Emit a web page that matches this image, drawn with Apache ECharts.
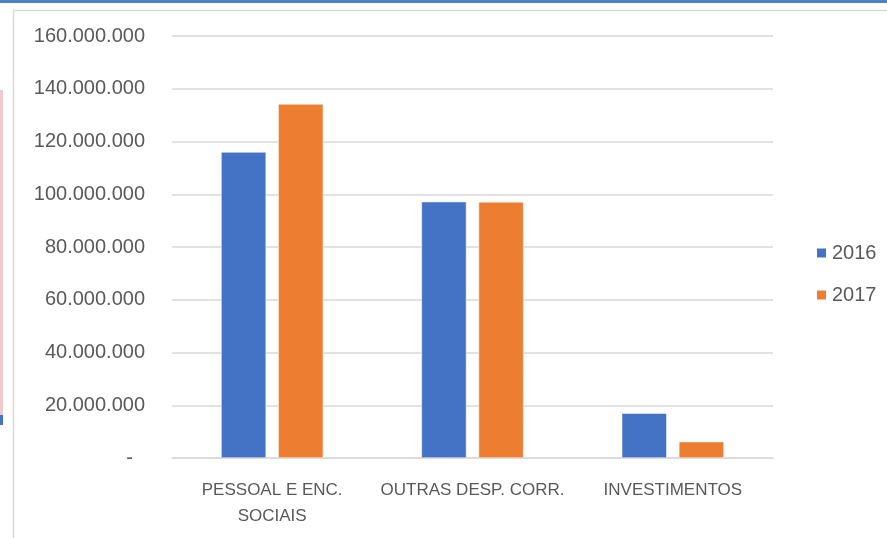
<!DOCTYPE html>
<html>
<head>
<meta charset="utf-8">
<script src="https://cdn.jsdelivr.net/npm/echarts@6/dist/echarts.min.js"></script>
<style>
html,body{margin:0;padding:0;background:#fff;}
#c{width:887px;height:538px;}
</style>
</head>
<body>
<div id="c"></div>
<script>
var categories = ['PESSOAL E ENC.\nSOCIAIS', 'OUTRAS DESP. CORR.', 'INVESTIMENTOS'];
var seriesNames = ['2016', '2017'];
var values2016 = [116000000, 97200000, 17000000];
var values2017 = [134200000, 97100000, 6200000];
var yTicks = { min: 0, max: 160000000, interval: 20000000 };

function fmt(v) {
  if (v === 0) return '{z|-}';
  return String(Math.round(v)).replace(/\B(?=(\d{3})+(?!\d))/g, '.');
}

var chart = echarts.init(document.getElementById('c'), null, { renderer: 'canvas' });
chart.setOption({
  animation: false,
  backgroundColor: '#ffffff',
  graphic: [
    { type: 'rect', left: 0, top: 0, shape: { width: 887, height: 3 }, style: { fill: '#4f81bd' } },
    { type: 'rect', left: 11, top: 8, shape: { width: 900, height: 560 }, style: { fill: 'none', stroke: '#d9d9d9', lineWidth: 1.5 }, z: -1 },
    { type: 'rect', left: 0, top: 90, shape: { width: 3, height: 325 }, style: { fill: '#f2c9cb' } },
    { type: 'rect', left: 0, top: 415, shape: { width: 3, height: 10 }, style: { fill: '#4472c4' } }
  ],
  grid: { left: 172, right: 114, top: 36, bottom: 80, containLabel: false },
  legend: {
    orient: 'vertical',
    left: 815,
    top: 243,
    padding: 0,
    itemWidth: 11,
    itemHeight: 11,
    itemGap: 22,
    icon: 'rect',
    textStyle: { fontFamily: 'Liberation Sans, Arial, sans-serif', fontSize: 20, color: '#595959' },
    data: seriesNames
  },
  xAxis: {
    type: 'category',
    data: categories,
    axisLine: { lineStyle: { color: '#d9d9d9', width: 1.5 } },
    axisTick: { show: false },
    axisLabel: {
      interval: 0,
      margin: 19,
      color: '#595959',
      fontFamily: 'Liberation Sans, Arial, sans-serif',
      fontSize: 17,
      lineHeight: 26
    }
  },
  yAxis: {
    type: 'value',
    min: yTicks.min,
    max: yTicks.max,
    interval: yTicks.interval,
    axisLine: { show: false },
    axisTick: { show: false },
    splitLine: { lineStyle: { color: '#d9d9d9', width: 1.5 } },
    axisLabel: {
      margin: 27,
      color: '#595959',
      fontFamily: 'Liberation Sans, Arial, sans-serif',
      fontSize: 20,
      formatter: fmt,
      rich: { z: { fontFamily: 'Liberation Sans, Arial, sans-serif', fontSize: 20, color: '#595959', padding: [0, 12, 0, 0] } }
    }
  },
  series: [
    { name: seriesNames[0], type: 'bar', data: values2016, barWidth: 45, barGap: '27%',
      itemStyle: { color: '#4472c4', borderColor: '#ffffff', borderWidth: 0.5 } },
    { name: seriesNames[1], type: 'bar', data: values2017, barWidth: 45, barGap: '27%',
      itemStyle: { color: '#ed7d31', borderColor: '#ffffff', borderWidth: 0.5 } }
  ]
});
</script>
</body>
</html>
